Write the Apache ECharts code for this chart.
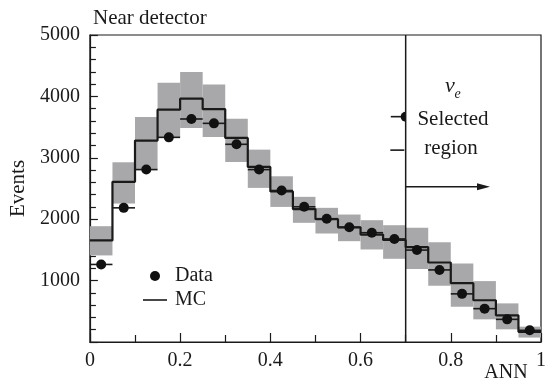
<!DOCTYPE html>
<html>
<head>
<meta charset="utf-8">
<script src="https://cdn.jsdelivr.net/npm/echarts@6/dist/echarts.min.js"></script>
<style>
html,body{margin:0;padding:0;background:#fff;}
#chart{width:549px;height:381px;}
</style>
</head>
<body>
<div id="chart"></div>
<script>
// Bin edges of the ANN histogram (20 bins)
const binEdges = [0, 0.05, 0.1, 0.15, 0.2, 0.25, 0.3, 0.35, 0.4, 0.45, 0.5,
                  0.55, 0.6, 0.65, 0.7, 0.75, 0.8, 0.85, 0.9, 0.95, 1.0];
// MC prediction per bin
const mcCounts = [1654, 2608, 3280, 3784, 3963, 3792, 3323, 2852, 2452, 2165,
                  2000, 1868, 1750, 1662, 1545, 1295, 958, 680, 434, 165];
// MC systematic band (low / high)
const bandLow  = [1410, 2255, 2810, 3330, 3487, 3340, 2933, 2510, 2200, 1941,
                  1767, 1642, 1507, 1355, 1188, 916, 576, 369, 206, 72];
const bandHigh = [1886, 2927, 3665, 4222, 4397, 4195, 3637, 3133, 2699, 2364,
                  2185, 2076, 1984, 1902, 1860, 1626, 1280, 992, 629, 250];
// Data per bin
const dataCounts = [1263, 2185, 2808, 3333, 3632, 3561, 3220, 2808, 2467, 2202,
                    2008, 1868, 1780, 1678, 1497, 1174, 784, 543, 369, 190];
// Selection cut and arrow
const selectionCut = 0.7;
const arrowFrom = [0.7, 2530];
const arrowTo = [0.887, 2530];
// Stray marker stubs next to the cut line: [xStart, xEnd, y, hasDot]
const stubMarks = [[0.667, 0.7, 3670, 1], [0.666, 0.697, 3125, 0]];
// Tick labels
const xTickLabels = {0: '0', 0.2: '0.2', 0.4: '0.4', 0.6: '0.6', 0.8: '0.8', 1: '1'};
const yTickLabels = {1000: '1000', 2000: '2000', 3000: '3000', 4000: '4000', 5000: '5000'};

const FONT = '"Liberation Serif", "Times New Roman", serif';
const INK = '#1a1a1a';

const bins = mcCounts.map((v, i) => [binEdges[i], binEdges[i + 1], bandLow[i], bandHigh[i]]);
const dataBars = dataCounts.map((v, i) => [binEdges[i], binEdges[i + 1], v]);
const dataPts = dataCounts.map((v, i) => [(binEdges[i] + binEdges[i + 1]) / 2, v]);
const mcStep = binEdges.map((e, i) => [e, mcCounts[Math.min(i, mcCounts.length - 1)]]);

function txt(x, y, text, size, opts) {
  return Object.assign({type: 'text', x: x, y: y, z: 100,
    style: Object.assign({text: text, fontFamily: FONT, fontSize: size, fill: INK,
                          align: 'center', verticalAlign: 'middle'}, opts || {})});
}

const chart = echarts.init(document.getElementById('chart'));
chart.setOption({
  animation: false,
  grid: {left: 85.5, right: 3.5, top: 35, bottom: 39, show: true,
         borderColor: INK, borderWidth: 1.2, backgroundColor: 'transparent'},
  xAxis: {
    type: 'value', min: 0, max: 1, interval: 0.2,
    axisLine: {onZero: false, lineStyle: {color: INK, width: 1.2}},
    axisTick: {inside: true, length: 9, lineStyle: {color: INK, width: 1.2}},
    minorTick: {show: true, splitNumber: 2, length: 7, lineStyle: {color: INK, width: 1.2}},
    splitLine: {show: false},
    axisLabel: {margin: 9, fontFamily: FONT, fontSize: 20, color: INK,
                formatter: v => xTickLabels[Math.round(v * 10) / 10] ?? ''}
  },
  yAxis: {
    type: 'value', min: 0, max: 5000, interval: 1000,
    name: 'Events', nameLocation: 'middle', nameGap: 57, nameRotate: 90,
    nameTextStyle: {fontFamily: FONT, fontSize: 21, color: INK},
    axisLine: {show: true, onZero: false, lineStyle: {color: INK, width: 1.2}},
    axisTick: {inside: true, length: 8, lineStyle: {color: INK, width: 1.2}},
    minorTick: {show: true, splitNumber: 5, length: 6, lineStyle: {color: INK, width: 1.2}},
    splitLine: {show: false},
    axisLabel: {margin: 10, fontFamily: FONT, fontSize: 20, color: INK,
                formatter: v => yTickLabels[v] ?? ''}
  },
  series: [
    {
      name: 'MC band', type: 'custom', data: bins, z: 1,
      renderItem: (params, api) => {
        const p0 = api.coord([api.value(0), api.value(3)]);
        const p1 = api.coord([api.value(1), api.value(2)]);
        return {type: 'rect', shape: {x: p0[0], y: p0[1], width: p1[0] - p0[0], height: p1[1] - p0[1]},
                style: {fill: '#a8a8aa'}};
      }
    },
    {
      name: 'MC', type: 'line', step: 'end', data: mcStep, z: 3,
      symbol: 'none', lineStyle: {color: INK, width: 2.2}
    },
    {
      name: 'Data bars', type: 'custom', data: dataBars, z: 4,
      renderItem: (params, api) => {
        const a = api.coord([api.value(0), api.value(2)]);
        const b = api.coord([api.value(1), api.value(2)]);
        return {type: 'line', shape: {x1: a[0], y1: a[1], x2: b[0], y2: b[1]},
                style: {stroke: INK, lineWidth: 1.6}};
      }
    },
    {
      name: 'Data', type: 'scatter', data: dataPts, z: 5,
      symbol: 'circle', symbolSize: 10, itemStyle: {color: '#111', opacity: 1}
    },
    {
      name: 'Cut', type: 'line', data: [[selectionCut, 0], [selectionCut, 5000]], z: 6,
      symbol: 'none', lineStyle: {color: INK, width: 1.5}
    },
    {
      name: 'Arrow', type: 'custom', data: [[arrowFrom[0], arrowFrom[1], arrowTo[0], arrowTo[1]]], z: 6,
      renderItem: (params, api) => {
        const a = api.coord([api.value(0), api.value(1)]);
        const b = api.coord([api.value(2), api.value(3)]);
        return {type: 'group', children: [
          {type: 'line', shape: {x1: a[0], y1: a[1], x2: b[0] - 8, y2: b[1]}, style: {stroke: INK, lineWidth: 1.5}},
          {type: 'polygon', shape: {points: [[b[0], b[1]], [b[0] - 13, b[1] - 3.5], [b[0] - 13, b[1] + 3.5]]},
           style: {fill: INK}}
        ]};
      }
    },
    {
      name: 'Stubs', type: 'custom', data: stubMarks, z: 6,
      renderItem: (params, api) => {
        const a = api.coord([api.value(0), api.value(2)]);
        const b = api.coord([api.value(1), api.value(2)]);
        const children = [{type: 'line', shape: {x1: a[0], y1: a[1], x2: b[0], y2: b[1]},
                           style: {stroke: INK, lineWidth: 1.6}}];
        if (api.value(3) > 0) {
          children.push({type: 'sector', shape: {cx: b[0], cy: b[1], r: 5, r0: 0,
                         startAngle: Math.PI / 2, endAngle: Math.PI * 1.5, clockwise: true},
                         style: {fill: '#111'}});
        }
        return {type: 'group', children};
      }
    }
  ],
  graphic: [
    txt(93, 18, 'Near detector', 21, {align: 'left'}),
    txt(506, 373, 'ANN', 20),
    txt(450, 86, 'ν', 22, {fontStyle: 'italic'}),
    txt(457.5, 94, 'e', 14, {fontStyle: 'italic'}),
    txt(453, 119.5, 'Selected', 21),
    txt(451, 148, 'region', 21),
    // legend
    {type: 'circle', z: 100, shape: {cx: 155, cy: 276, r: 5}, style: {fill: '#111'}},
    txt(175, 276, 'Data', 20, {align: 'left'}),
    {type: 'line', z: 100, shape: {x1: 143, y1: 300, x2: 167, y2: 300}, style: {stroke: INK, lineWidth: 1.6}},
    txt(175, 300, 'MC', 20, {align: 'left'})
  ]
});
</script>
</body>
</html>
